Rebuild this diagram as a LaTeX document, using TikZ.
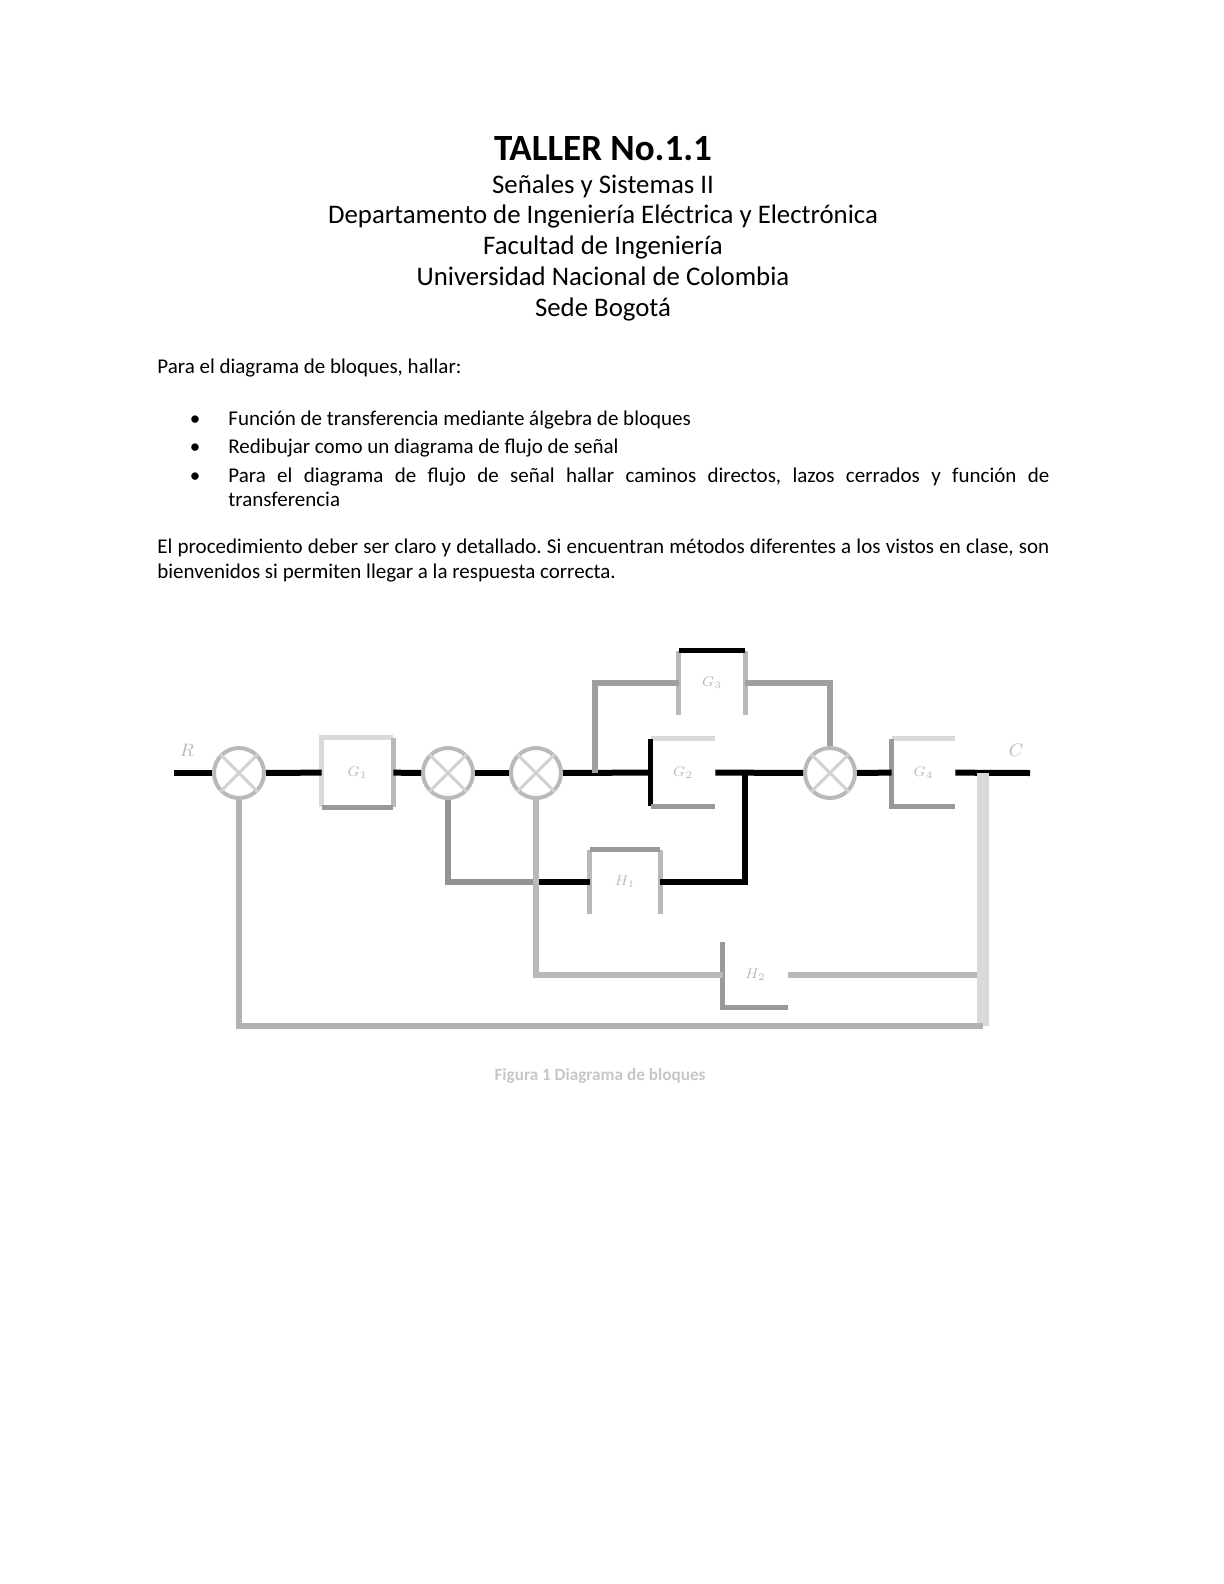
\documentclass[tikz,border=0pt]{standalone}
\usepackage{fontspec}
\setmainfont{Carlito}
\usetikzlibrary{positioning}
\frenchspacing
\hyphenpenalty=10000
\exhyphenpenalty=10000

\begin{document}
\begin{tikzpicture}[x=0.5pt, y=-0.5pt,
  txt/.style={inner sep=0pt, font=\fontsize{10.5}{12.5}\selectfont},
  head/.style={inner sep=0pt, anchor=base, font=\fontsize{13.4}{15.4}\selectfont},
  blk/.style={inner sep=0pt, font=\scriptsize, text=gray!55},
  sumj/.style={circle, draw=gray!55, line width=2pt, minimum size=25pt, inner sep=0pt},
  wire/.style={line width=3pt},
  side/.style={line width=2.5pt}]
\useasboundingbox (0,0) rectangle (1224,1584);
% heading
\node[inner sep=0pt, anchor=base, font=\fontsize{18.5}{20}\selectfont\bfseries] (tit) at (603,161) {TALLER No.1.1};
\node[head] (hd1) at (603,193) {Señales y Sistemas II};
\node[head] (hd2) at (603,223) {Departamento de Ingeniería Eléctrica y Electrónica};
\node[head] (hd3) at (603,254) {Facultad de Ingeniería};
\node[head] (hd4) at (603,285) {Universidad Nacional de Colombia};
\node[head] (hd5) at (603,316) {Sede Bogotá};
% statement
\node[txt, anchor=base west] (intro) at (157,373) {Para el diagrama de bloques, hallar:};
\node[txt, anchor=base] (b1) at (195,425) {\textbullet};
\node[txt, anchor=base] (b2) at (195,453) {\textbullet};
\node[txt, anchor=base] (b3) at (195,482) {\textbullet};
\node[txt, anchor=base west] (it1) at (228,425) {Función de transferencia mediante álgebra de bloques};
\node[txt, anchor=base west] (it2) at (228,453) {Redibujar como un diagrama de flujo de señal};
\node[txt, anchor=base west] (it3) at (228,482) {\parbox[t]{410.5pt}{\fontsize{10.5}{12}\selectfont Para el diagrama de flujo de señal hallar caminos directos, lazos cerrados y función de\linebreak transferencia}};
\node[txt, anchor=base west] (par) at (157,553) {\parbox[t]{446pt}{\fontsize{10.5}{12.5}\selectfont El procedimiento deber ser claro y detallado. Si encuentran métodos diferentes a los vistos en clase, son bienvenidos si permiten llegar a la respuesta correcta.}};
% block diagram
\node[sumj] (s1) at (239,773) {};
\node[blk, minimum width=35.5pt, minimum height=34.5pt] (g1) at (357.5,772.5) {$G_1$};
\node[sumj] (s2) at (448,773) {};
\node[sumj] (s3) at (536,773) {};
\node[blk, minimum width=32pt, minimum height=33.5pt] (g2) at (683,772.5) {$G_2$};
\node[blk, minimum width=33pt, minimum height=32pt] (g3) at (712,683) {$G_3$};
\node[sumj] (s4) at (830,773) {};
\node[blk, minimum width=31.5pt, minimum height=33.5pt] (g4) at (923.5,772.5) {$G_4$};
\node[blk, minimum width=35pt, minimum height=32pt] (h1) at (625,882) {$H_1$};
\node[blk, minimum width=32.5pt, minimum height=32.5pt] (h2) at (755.5,974.5) {$H_2$};
\node[blk, font=\small] (rin) at (187,750) {$R$};
\node[blk, font=\small] (cout) at (1016,750) {$C$};
\coordinate (in) at (174,773);
\coordinate (out) at (1030,773);
\coordinate (br) at (595,773);
\coordinate (jc) at (745,773);
\coordinate (jl) at (s3 |- h1);
\coordinate (fr) at (983,773);
\coordinate (fb) at (983,1026);
\foreach \s in {s1,s2,s3,s4}
  \draw[gray!35, line width=1.5pt] (\s.45) -- (\s.225) (\s.135) -- (\s.315);
% box sides
\draw[side, gray!30] (g1.south west) -- (g1.north west) -- (g1.north east);
\draw[side, gray!55] (g1.north east) -- (g1.south east);
\draw[side, gray!80] (g1.south west) -- (g1.south east);
\draw[side, gray!30] (g2.north west) -- (g2.north east);
\draw[side, black] (g2.north west) -- (g2.south west);
\draw[side, gray!80] (g2.south west) -- (g2.south east);
\draw[side, gray!55] (g3.south west) -- (g3.north west);
\draw[side, gray!55] (g3.south east) -- (g3.north east);
\draw[side, black] (g3.north west) -- (g3.north east);
\draw[side, gray!30] (g4.north west) -- (g4.north east);
\draw[side, gray!80] (g4.north west) -- (g4.south west) -- (g4.south east);
\draw[side, gray!55] (h1.south west) -- (h1.north west);
\draw[side, gray!55] (h1.south east) -- (h1.north east);
\draw[side, gray!80] (h1.north west) -- (h1.north east);
\draw[side, gray!80] (h2.north west) -- (h2.south west) -- (h2.south east);
% forward path
\draw[wire] (in) -- (s1);
\draw[wire] (s1) -- (g1);
\draw[wire] (g1) -- (s2);
\draw[wire] (s2) -- (s3);
\draw[wire] (s3) -- (g2);
\draw[wire] (g2) -- (s4);
\draw[wire] (s4) -- (g4);
\draw[wire] (g4) -- (out);
\draw[wire, gray!75] (br) |- (g3.west);
\draw[wire, gray!75] (g3.east) -| (s4.north);
% inner loops
\draw[wire] (jc) |- (h1.east);
\draw[wire] (h1.west) -- (jl);
\draw[wire, gray!85] (jl) -| (s2.south);
\draw[wire, gray!55] (s3.south) |- (h2.west);
\draw[wire, gray!55] (h2.east) -- (h2.east -| fr);
% outer loop
\draw[line width=6pt, gray!30] (fr) -- (fb);
\draw[wire, gray!60] (fb) -| (s1.south);
\node[inner sep=0pt, anchor=base, font=\fontsize{8.6}{10}\selectfont\bfseries, text=gray!45] (cap) at (600,1080) {Figura 1 Diagrama de bloques};
\end{tikzpicture}
\end{document}
